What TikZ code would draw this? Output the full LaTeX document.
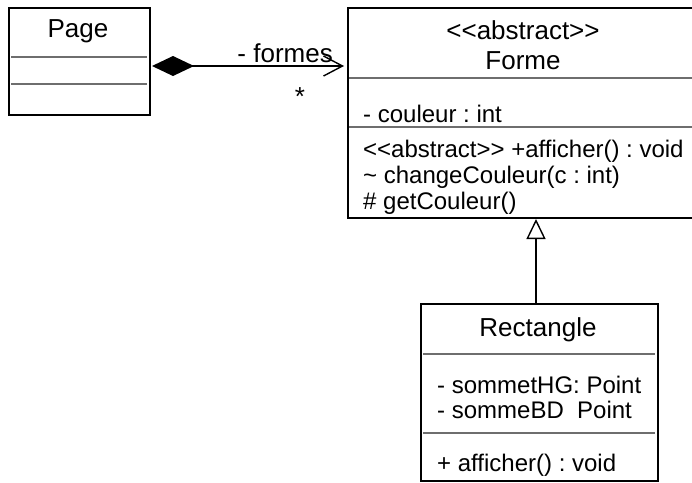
\documentclass[tikz,border=0pt]{standalone}
\usepackage{fontspec}
\setmainfont{Liberation Sans}[Ligatures=ResetAll]
\usetikzlibrary{arrows.meta}
\definecolor{sepgray}{RGB}{110,110,110}
\frenchspacing
\begin{document}
\begin{tikzpicture}[x=1pt,y=-1pt,
  box/.style={draw,line width=2pt,inner sep=0pt,anchor=north west},
  sepline/.style={draw=sepgray,line width=1.3pt},
  title/.style={font=\fontsize{26}{30}\selectfont,anchor=base,inner sep=0pt},
  txt/.style={font=\fontsize{24}{28}\selectfont,anchor=base west,inner sep=0pt},
  conn/.style={line width=1.4pt}
]
\useasboundingbox (0,0) rectangle (692,482);

% Page
\node[box,minimum width=141pt,minimum height=107pt] (page) at (8,7) {};
\node[title] (pageT) at (78,37) {Page};
\draw[sepline] (11,57) -- (147,57);
\draw[sepline] (11,84) -- (147,84);

% Forme
\node[box,minimum width=353pt,minimum height=210pt] (forme) at (347,7) {};
\node[title] (formeS) at (523,39) {{<}{<}abstract{>}{>}};
\node[title] (formeT) at (523,69) {Forme};
\draw[sepline] (349,78) -- (700,78);
\node[txt] (fa1) at (363,122) {- couleur : int};
\draw[sepline] (349,127) -- (700,127);
\node[txt] (fm1) at (363,157) {{<}{<}abstract{>}{>} +afficher() : void};
\node[txt] (fm2) at (363,183) {\char`~\ changeCouleur(c : int)};
\node[txt] (fm3) at (363,209) {\# getCouleur()};

% Rectangle
\node[box,minimum width=237pt,minimum height=177pt] (rect) at (420,303) {};
\node[title] (rectT) at (538,336) {Rectangle};
\draw[sepline] (423,354) -- (655,354);
\node[txt] (ra1) at (437,393) {- sommetHG: Point};
\node[txt] (ra2) at (437,418) {- sommeBD\ \ Point};
\draw[sepline] (423,433) -- (655,433);
\node[txt] (rm1) at (437,471) {+ afficher() : void};

% composition
\draw[conn,{Diamond[length=42pt,width=20pt,fill=black]}-{Straight Barb[length=19pt,width=20pt,line width=1.4pt]}]
  ([xshift=1pt]page.east |- 0,66) -- ([xshift=-3pt]forme.west |- 0,66);
\node[title,anchor=base east] (role) at (333,62) {- formes};
\node[title] (mult) at (300,105) {*};

% generalization
\draw[conn,-{Triangle[open,length=20pt,width=19pt,line width=1.4pt]}]
  ([xshift=-3.5pt]rect.north) -- ([xshift=-3.5pt]rect.north |- forme.south);
\end{tikzpicture}
\end{document}
